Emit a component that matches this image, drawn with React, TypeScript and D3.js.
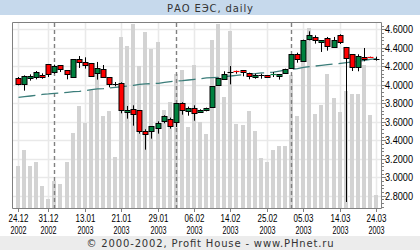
import React from "react";
import * as d3 from "d3";

const dates = [
  "24.12.2002","25.12.2002","26.12.2002","27.12.2002","30.12.2002","31.12.2002",
  "03.01.2003","06.01.2003","08.01.2003","09.01.2003","10.01.2003","13.01.2003","14.01.2003","15.01.2003","16.01.2003","17.01.2003",
  "20.01.2003","21.01.2003","22.01.2003","23.01.2003","24.01.2003","27.01.2003","28.01.2003","29.01.2003","30.01.2003","31.01.2003",
  "03.02.2003","04.02.2003","05.02.2003","06.02.2003","07.02.2003","10.02.2003","11.02.2003","12.02.2003","13.02.2003","14.02.2003",
  "17.02.2003","18.02.2003","19.02.2003","20.02.2003","21.02.2003","25.02.2003","26.02.2003","27.02.2003","28.02.2003",
  "03.03.2003","04.03.2003","05.03.2003","06.03.2003","07.03.2003","11.03.2003","12.03.2003","13.03.2003","14.03.2003",
  "17.03.2003","18.03.2003","19.03.2003","20.03.2003","21.03.2003","24.03.2003",
];

const opens = [
  4.074, 4.005, 4.081, 4.081, 4.106, 4.225, 4.142, 4.214, 4.160, 4.077,
  4.275, 4.243, 4.236, 4.128, 4.171, 4.084, 4.005, 4.016, 3.702, 3.739,
  3.724, 3.497, 3.493, 3.530, 3.605, 3.634, 3.591, 3.803, 3.720, 3.746,
  3.702, 3.724, 3.757, 3.994, 4.059, 4.135, 4.149, 4.156, 4.124, 4.081,
  4.102, 4.106, 4.106, 4.092, 4.120, 4.174, 4.330, 4.254, 4.492, 4.517,
  4.456, 4.506, 4.409, 4.535, 4.409, 4.330, 4.189, 4.301, 4.301, 4.283,
];
const highs = [
  4.084, 4.102, 4.113, 4.149, 4.124, 4.225, 4.218, 4.214, 4.160, 4.275,
  4.311, 4.297, 4.236, 4.247, 4.214, 4.084, 4.030, 4.027, 3.771, 3.778,
  3.724, 3.519, 3.551, 3.605, 3.670, 3.645, 3.800, 3.811, 3.764, 3.778,
  3.735, 3.753, 3.984, 4.077, 4.146, 4.203, 4.153, 4.156, 4.131, 4.120,
  4.120, 4.106, 4.138, 4.117, 4.174, 4.330, 4.347, 4.488, 4.578, 4.535,
  4.481, 4.517, 4.517, 4.546, 4.409, 4.330, 4.330, 4.398, 4.304, 4.304,
];
const lows = [
  3.994, 3.937, 4.045, 4.059, 4.066, 4.084, 4.120, 4.138, 4.059, 4.077,
  4.182, 4.175, 4.088, 4.056, 4.084, 3.973, 3.984, 3.692, 3.634, 3.558,
  3.472, 3.299, 3.418, 3.472, 3.584, 3.526, 3.544, 3.677, 3.666, 3.612,
  3.699, 3.713, 3.757, 3.994, 4.059, 4.005, 4.120, 4.092, 4.059, 4.066,
  4.066, 4.077, 4.084, 4.056, 4.117, 4.174, 4.239, 4.247, 4.481, 4.445,
  4.355, 4.369, 4.398, 4.441, 2.733, 4.149, 4.146, 4.254, 4.293, 4.261,
];
const closes = [
  4.005, 4.095, 4.099, 4.138, 4.081, 4.113, 4.203, 4.167, 4.120, 4.275,
  4.239, 4.207, 4.099, 4.178, 4.088, 4.005, 4.005, 3.724, 3.728, 3.688,
  3.493, 3.465, 3.551, 3.587, 3.659, 3.558, 3.800, 3.724, 3.749, 3.688,
  3.728, 3.749, 3.984, 4.070, 4.113, 4.135, 4.144, 4.131, 4.092, 4.106,
  4.102, 4.081, 4.117, 4.117, 4.167, 4.330, 4.275, 4.481, 4.535, 4.481,
  4.481, 4.416, 4.481, 4.456, 4.290, 4.185, 4.311, 4.275, 4.297, 4.283,
];
const volumes = [
  42, 58, 42, 46, 22, 9, 27, 24, 46, 75,
  102, 85, 118, 134, 92, 97, 51, 171, 162, 184,
  142, 176, 159, 166, 98, 106, 134, 138, 81, 143,
  86, 74, 168, 184, 111, 177, 84, 83, 97, 77,
  50, 46, 58, 62, 62, 133, 92, 163, 180, 94,
  103, 134, 110, 96, 117, 114, 114, 143, 93, 13,
];
const movingAvg = [
  3.865, 3.872, 3.879, 3.886, 3.897, 3.901, 3.908, 3.911, 3.919, 3.926,
  3.929, 3.937, 3.947, 3.955, 3.958, 3.966, 3.973, 3.980, 3.987, 3.994,
  4.005, 4.009, 4.012, 4.016, 4.027, 4.034, 4.041, 4.045, 4.052, 4.059,
  4.066, 4.074, 4.077, 4.081, 4.088, 4.095, 4.102, 4.110, 4.117, 4.120,
  4.128, 4.131, 4.138, 4.149, 4.160, 4.167, 4.174, 4.189, 4.196, 4.203,
  4.211, 4.218, 4.225, 4.232, 4.239, 4.247, 4.254, 4.265, 4.275, 4.283,
];

const tickDays = ["24.12","31.12","13.01","21.01","29.01","06.02","14.02","25.02","05.03","14.03","24.03"];
const tickYears = ["2002","2002","2003","2003","2003","2003","2003","2003","2003","2003","2003"];
const priceTicks = [2.8, 3.0, 3.2, 3.4, 3.6, 3.8, 4.0, 4.2, 4.4, 4.6];
const minorPriceTicks = d3.range(2.68, 4.66, 0.04);

const TITLE = "РАО ЕЭС, daily";
const FOOTER = "© 2000-2002, Profit House - www.PHnet.ru";

export default function App() {
  const W = 420, H = 250;
  const L = 13, R = 381, T = 23, B = 208;
  const x = d3.scalePoint<string>().domain(dates).range([18, 376]);
  const y = d3.scaleLinear().domain([2.8, 4.6]).range([195.8, 29.3]);
  const yv = d3.scaleLinear().domain([0, 185]).range([B, T]);
  const cx = (i: number) => Math.round(x(dates[i]) as number) + 0.5;

  const maPath = d3.line<number>().x((_, i) => cx(i)).y((d) => y(d))(movingAvg) || "";

  const monthStarts: number[] = [];
  dates.forEach((d, i) => {
    if (i > 0 && d.slice(3, 5) !== dates[i - 1].slice(3, 5)) monthStarts.push(i);
  });

  const tickIdx = tickDays.map((td, k) => dates.indexOf(td + "." + tickYears[k]));

  const axisFont = "'Liberation Sans', Arial, sans-serif";
  const green = "#00803f";
  const red = "#ff0000";

  return (
    <div style={{ position: "absolute", left: 0, top: 0 }}>
      <svg width={W} height={H} style={{ display: "block", background: "#fff" }}>
        <rect x={0} y={0} width={W} height={15} fill="#c6d9ec" />
        <text x={210} y={11.5} textAnchor="middle" fontFamily="'DejaVu Sans', Verdana, sans-serif"
          fontSize={10} fill="#333" textLength={86} lengthAdjust="spacing">{TITLE}</text>

        {/* grid */}
        {priceTicks.map((p) => (
          <line key={"hg" + p} x1={L} x2={R} y1={Math.round(y(p)) + 0.5} y2={Math.round(y(p)) + 0.5}
            stroke="#e9e9e9" strokeWidth={1.6} />
        ))}
        {tickIdx.map((i) => (
          <line key={"vg" + i} x1={cx(i)} x2={cx(i)} y1={T} y2={B} stroke="#e9e9e9" strokeWidth={1.6} />
        ))}

        {/* volume */}
        {volumes.map((v, i) => (
          <rect key={"v" + i} x={cx(i) - 2.5} y={yv(v)} width={4} height={B - yv(v)} fill="#d3d3d3" />
        ))}

        {/* month separators */}
        {monthStarts.map((i) => (
          <line key={"ms" + i} x1={cx(i)} x2={cx(i)} y1={T} y2={B} stroke="#808080" strokeWidth={1.4}
            strokeDasharray="4,3" />
        ))}

        {/* moving average */}
        <path d={maPath} fill="none" stroke="#3b7d7a" strokeWidth={1.3} strokeDasharray="17,6" />

        {/* candles */}
        {dates.map((_, i) => {
          const o = opens[i], c = closes[i], h = highs[i], l = lows[i];
          const X = cx(i);
          const yTop = y(Math.max(o, c));
          const yBot = y(Math.min(o, c));
          const up = c > o;
          const col = up ? green : red;
          const bh = yBot - yTop;
          return (
            <g key={"c" + i}>
              <line x1={X} x2={X} y1={y(h)} y2={y(l)} stroke="#000" strokeWidth={1} />
              {o === c ? (
                <line x1={X - 3} x2={X + 3} y1={Math.round(yTop) + 0.5} y2={Math.round(yTop) + 0.5} stroke="#000" strokeWidth={1} />
              ) : bh < 1.5 ? (
                <line x1={X - 3} x2={X + 3} y1={Math.round(yTop) + 0.5} y2={Math.round(yTop) + 0.5} stroke={col} strokeWidth={1.2} />
              ) : (
                <rect x={X - 2.5} y={Math.round(yTop) + 0.5} width={5} height={Math.max(1, Math.round(bh))}
                  fill={col} stroke="#000" strokeWidth={1} />
              )}
            </g>
          );
        })}

        {/* frame */}
        <line x1={L - 0.5} x2={R + 0.5} y1={T - 0.5} y2={T - 0.5} stroke="#808080" strokeWidth={1} />
        <line x1={L - 0.5} x2={L - 0.5} y1={T - 0.5} y2={B + 0.5} stroke="#808080" strokeWidth={1} />
        <line x1={L - 0.5} x2={R + 0.5} y1={B + 0.5} y2={B + 0.5} stroke="#808080" strokeWidth={1} />
        <line x1={R + 0.5} x2={R + 0.5} y1={T - 0.5} y2={B + 0.5} stroke="#808080" strokeWidth={1} />

        {/* right price axis */}
        {minorPriceTicks.map((p, k) => (
          <line key={"mt" + k} x1={R + 1} x2={R + 3} y1={Math.round(y(p)) + 0.5} y2={Math.round(y(p)) + 0.5}
            stroke="#808080" strokeWidth={1} />
        ))}
        {priceTicks.map((p) => (
          <g key={"pt" + p}>
            <line x1={R + 1} x2={R + 5} y1={Math.round(y(p)) + 0.5} y2={Math.round(y(p)) + 0.5} stroke="#808080" />
            <text x={385} y={y(p) + 3.8} fontFamily={axisFont} fontSize={10} fill="#000"
              textLength={28} lengthAdjust="spacingAndGlyphs">{p.toFixed(4)}</text>
          </g>
        ))}

        {/* bottom date axis */}
        {tickIdx.map((i, k) => (
          <g key={"dt" + i}>
            <line x1={cx(i)} x2={cx(i)} y1={B + 1} y2={B + 4} stroke="#808080" />
            <text x={cx(i)} y={222} textAnchor="middle" fontFamily={axisFont} fontSize={10} fill="#000"
              textLength={20} lengthAdjust="spacingAndGlyphs">{tickDays[k]}</text>
            <text x={cx(i)} y={233.5} textAnchor="middle" fontFamily={axisFont} fontSize={10} fill="#000"
              textLength={16} lengthAdjust="spacingAndGlyphs">{tickYears[k]}</text>
          </g>
        ))}

        {/* footer */}
        <rect x={0} y={236} width={W} height={14} fill="#ececec" />
        <text x={210} y={247} textAnchor="middle" fontFamily="'DejaVu Sans', Verdana, sans-serif"
          fontSize={10} fill="#333" textLength={247} lengthAdjust="spacing">{FOOTER}</text>
      </svg>
    </div>
  );
}
